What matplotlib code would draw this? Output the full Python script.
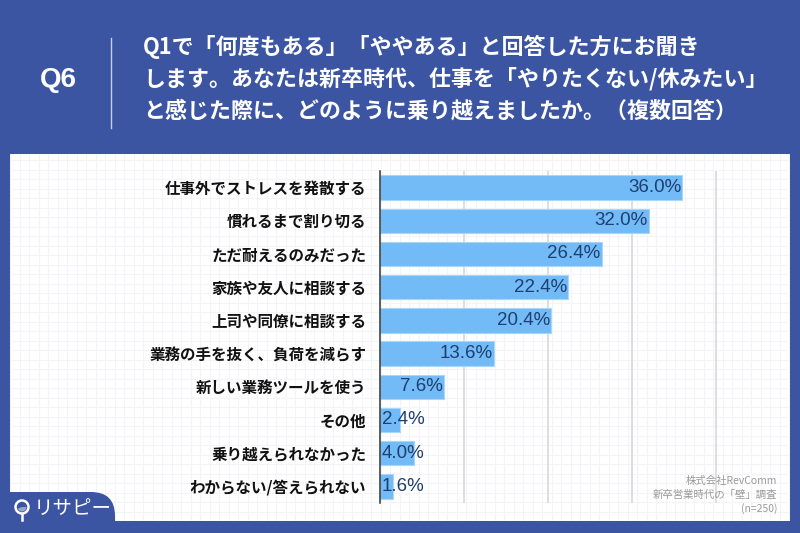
import matplotlib
matplotlib.use("Agg")
import matplotlib.pyplot as plt
import numpy as np
from matplotlib.patches import FancyBboxPatch, Rectangle, Circle, Wedge
from matplotlib.lines import Line2D

categories = [
    "仕事外でストレスを発散する",
    "慣れるまで割り切る",
    "ただ耐えるのみだった",
    "家族や友人に相談する",
    "上司や同僚に相談する",
    "業務の手を抜く、負荷を減らす",
    "新しい業務ツールを使う",
    "その他",
    "乗り越えられなかった",
    "わからない/答えられない",
]
values = [36.0, 32.0, 26.4, 22.4, 20.4, 13.6, 7.6, 2.4, 4.0, 1.6]
value_labels = ["36.0%", "32.0%", "26.4%", "22.4%", "20.4%", "13.6%", "7.6%", "2.4%", "4.0%", "1.6%"]
grid_ticks = [10, 20, 30, 40]

title_q = "Q6"
title_lines = [
    "Q1で「何度もある」「ややある」と回答した方にお聞き",
    "します。あなたは新卒時代、仕事を「やりたくない/休みたい」",
    "と感じた際に、どのように乗り越えましたか。（複数回答）",
]
notes = ["株式会社RevComm", "新卒営業時代の「壁」調査", "(n=250)"]
logo_text = "リサピー"

JP = ["Noto Sans CJK JP", "DejaVu Sans"]
LAT = ["Liberation Sans", "DejaVu Sans"]
BG = "#3B55A3"
BAR = "#72BBF7"
TXT = "#1F3F70"

W, H = 800, 533
fig = plt.figure(figsize=(8, 5.33), dpi=100, facecolor=BG)

def fx(px):
    return px / W

def fy(py):
    return 1 - py / H

# white panel with faint graph-paper pattern
pax = fig.add_axes([fx(10), fy(521), fx(780), 367 / H], zorder=0)
pax.set_facecolor("white")
pax.set_xlim(0, 780)
pax.set_ylim(0, 367)
pax.set_xticks(np.arange(0, 780, 9.5))
pax.set_yticks(np.arange(0, 367, 9.5))
pax.grid(True, color="#F3F4F7", lw=0.8)
pax.tick_params(length=0, labelbottom=False, labelleft=False)
for s in pax.spines.values():
    s.set_visible(False)

# main bar axes
ax = fig.add_axes([fx(380), fy(503), fx(410), (503 - 171) / H], zorder=2)
ax.patch.set_alpha(0)
y = np.arange(len(categories))
ax.barh(y, values, height=0.74, color=BAR, edgecolor="#A9D6FB", linewidth=0.8, zorder=2)
ax.set_ylim(len(categories) - 0.5, -0.5)
ax.set_xlim(0, 48.8)
ax.set_xticks(grid_ticks)
ax.xaxis.grid(True, color="#D8D8D8", lw=1.2, zorder=0)
ax.set_axisbelow(True)
ax.tick_params(axis="x", length=0, labelbottom=False)
ax.set_yticks(y)
ax.set_yticklabels(categories, fontsize=11.2, fontweight="bold", family=JP, color="#111111")
ax.tick_params(axis="y", length=0, pad=10)
for s in ["top", "right", "bottom"]:
    ax.spines[s].set_visible(False)
ax.spines["left"].set_color("#333333")
ax.spines["left"].set_linewidth(1.1)
ax.spines["left"].set_zorder(3)

for yi, v, lab in zip(y, values, value_labels):
    if v >= 6:
        ax.text(v - 0.15, yi, lab, ha="right", va="center", fontsize=13.5,
                family=LAT, color=TXT, zorder=4)
    else:
        ax.text(0.25, yi, lab, ha="left", va="center", fontsize=13.5,
                family=LAT, color=TXT, zorder=4)

# header
fig.text(fx(58), fy(80), title_q, ha="center", va="center", fontsize=20,
         fontweight="bold", family=LAT, color="white")
fig.add_artist(Line2D([fx(111), fx(111)], [fy(38), fy(128)], color="#C8D0E8", lw=1.0))
for i, line in enumerate(title_lines):
    fig.text(fx(143), fy(47 + 32 * i), line, ha="left", va="center", fontsize=15.8,
             fontweight="bold", family=JP, color="white")

# notes
for i, n in enumerate(notes):
    fig.text(fx(777), fy(481 + 14 * i), n, ha="right", va="center", fontsize=7.5,
             family=JP, color="#9A9A9A", zorder=5)

# logo tab
tab = FancyBboxPatch((-0.3, -0.3), 1.45, 0.71, boxstyle="round,pad=0,rounding_size=0.24",
                     transform=fig.dpi_scale_trans, facecolor=BG, edgecolor="none", zorder=6)
fig.add_artist(tab)
fig.add_artist(Circle((0.22, 0.26), 0.065, transform=fig.dpi_scale_trans,
                      facecolor="none", edgecolor="white", lw=1.8, zorder=7))
fig.add_artist(Wedge((0.22, 0.26), 0.045, 200, 360, transform=fig.dpi_scale_trans,
                     facecolor="#9AA6C8", edgecolor="none", zorder=7))
fig.add_artist(Line2D([0.22, 0.22], [0.195, 0.13], transform=fig.dpi_scale_trans,
                      color="white", lw=1.8, zorder=7))
fig.text(fx(34), fy(508), logo_text, ha="left", va="center", fontsize=14,
         family=JP, color="white", zorder=7)

fig.savefig("out.png", dpi=100, facecolor=BG)
